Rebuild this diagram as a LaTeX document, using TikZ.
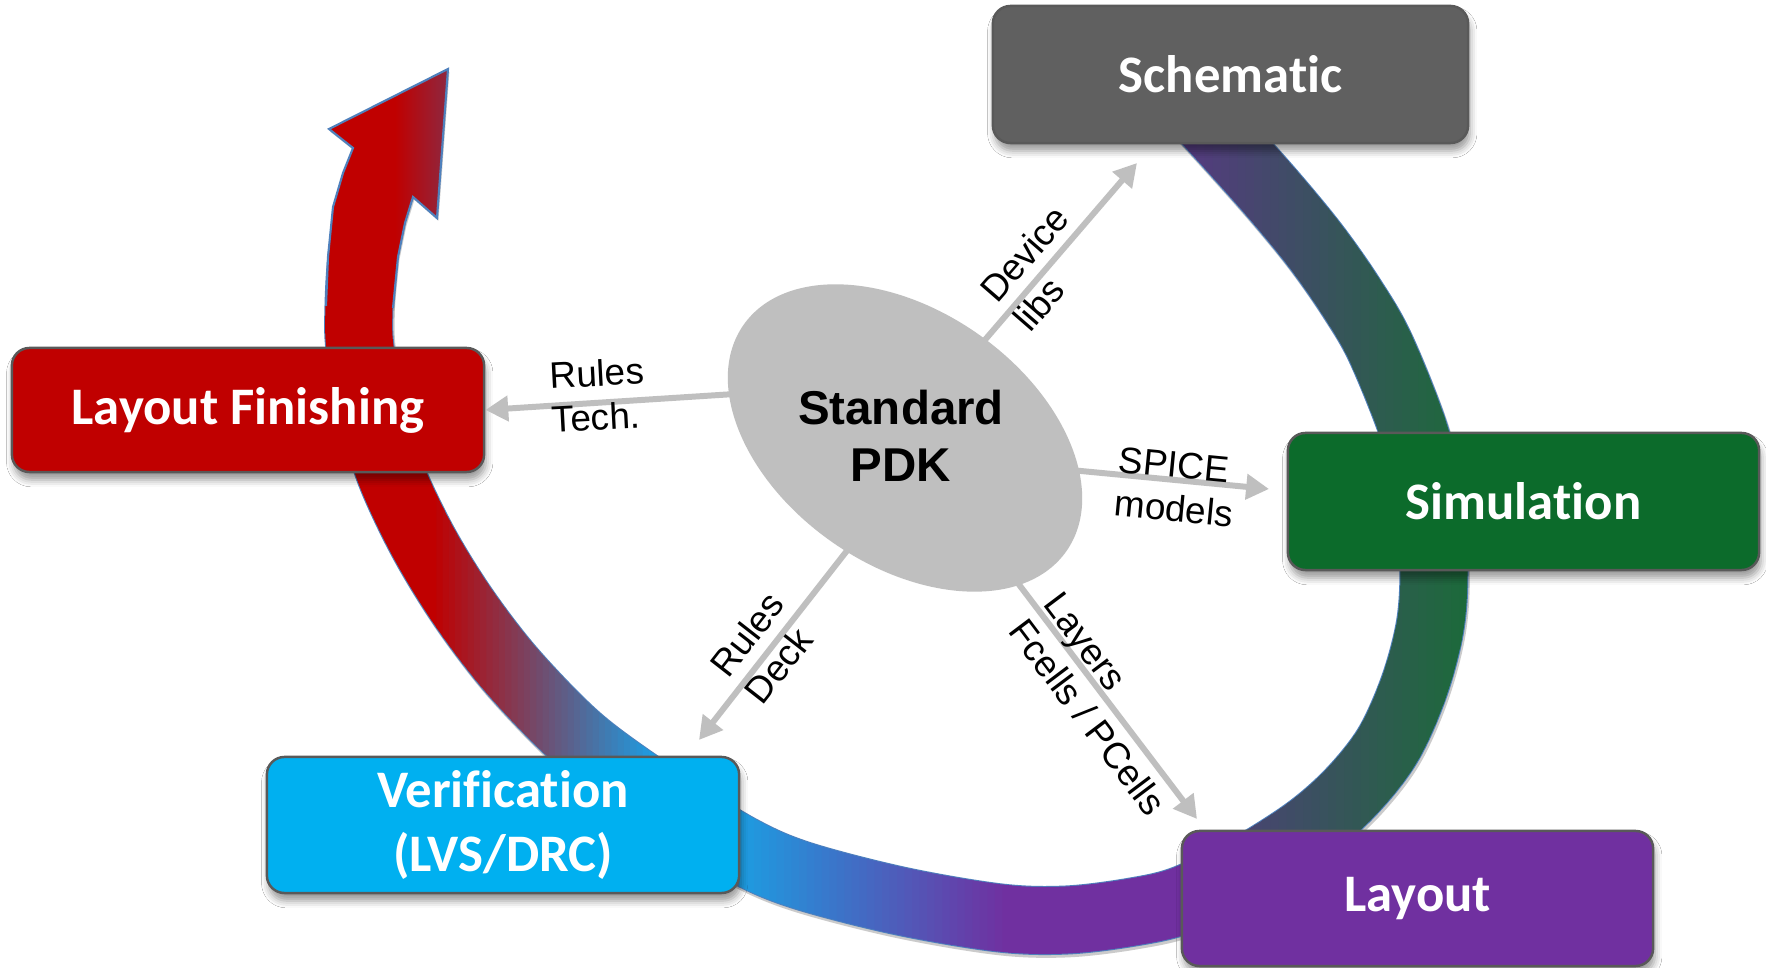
\documentclass[tikz,border=0pt]{standalone}
\usepackage{fontspec}
\newfontfamily\calib[Ligatures=CommonOff]{Carlito}
\newfontfamily\arial{Liberation Sans}
\usetikzlibrary{shapes.geometric,arrows.meta,shadows.blur}
\definecolor{schgray}{HTML}{606060}
\definecolor{simgreen}{HTML}{0C6B2B}
\definecolor{laypurple}{HTML}{7030A0}
\definecolor{verblue}{HTML}{00B0F0}
\definecolor{lfred}{HTML}{C00000}
\definecolor{pdkgray}{HTML}{BFBFBF}
\definecolor{arrgray}{HTML}{BFBFBF}
\definecolor{bandpurple}{HTML}{553A80}
\definecolor{bandgreen}{HTML}{1B6B39}
\definecolor{bandblue}{HTML}{1E9BE0}
\definecolor{bandviolet}{HTML}{7030A0}
\definecolor{banddark}{HTML}{8A2B45}
\definecolor{bandline}{HTML}{4F81BD}
\definecolor{boxedge}{HTML}{595959}
% centre line of the cycle band
\newcommand\bandstroke[1]{%
  \draw[#1] plot[smooth,tension=0.55] coordinates {(1180,92) (1227,143) (1275,197) (1316,247) (1351,297) (1380,347) (1414,432) (1430,500) (1434,570) (1430,627) (1414,687) (1388,745) (1352,791) (1308,830) (1245,870) (1183,900) (1133,912) (1067,920) (1000,918) (900,901) (800,875) (740,849) (668,804) (598,755) (557,719) (506,664) (461,604) (422,540) (390,472) (372,410) (360,348) (359,307) (362,257) (370,215)};}
% gradient along x by strips: #1 left x, #2 right x, #3 top y, #4 bottom y, #5 left colour, #6 right colour
\newcommand\bandgrad[6]{%
  \foreach \i in {0,...,35}{%
    \pgfmathsetmacro\xa{#1+(#2-#1)*\i/36}%
    \pgfmathsetmacro\xb{#1+(#2-#1)*(\i+1)/36+2}%
    \pgfmathsetmacro\pp{100*\i/35}%
    \begin{scope}
      \clip (\xa,#3) rectangle (\xb,#4);
      \bandstroke{line width=0.67cm, line cap=butt, color=#6!\pp!#5}
    \end{scope}}}
\newcommand\bandsolid[5]{%
  \begin{scope}
    \clip (#1,#3) rectangle (#2,#4);
    \bandstroke{line width=0.67cm, line cap=butt, color=#5}
  \end{scope}}
\tikzset{
  box/.style={rectangle, rounded corners=5pt, draw=boxedge, line width=0.7pt,
    text=white, font=\calib\bfseries\fontsize{15}{18}\selectfont, align=center, inner sep=0pt,
    blur shadow={shadow xshift=0.5pt, shadow yshift=-2.2pt, shadow blur radius=2pt, shadow opacity=40}},
  arr/.style={draw=arrgray, line width=1.7pt, -{Triangle[length=6.5pt,width=7pt]}},
  lbl/.style={font=\arial\fontsize{10.5}{12.5}\selectfont, align=left, inner sep=0pt},
}
\begin{document}
\begin{tikzpicture}[x=0.01cm, y=-0.01cm]
\useasboundingbox (0,0) rectangle (1766,968);
\fill[white] (0,0) rectangle (1766,968);

% ---- cycle band ----
\begin{scope}[xshift=0.4pt, yshift=-0.8pt]
  \bandstroke{line width=0.69cm, line cap=butt, color=black!45, opacity=0.45}
  \fill[black!45, opacity=0.45] (326,306) -- (328,257) -- (333,207) -- (343,173) -- (353,148) -- (329,129) -- (448,69) -- (437,218) -- (413,197) -- (405,223) -- (398,257) -- (393,308) -- cycle;
\end{scope}
\bandstroke{line width=0.69cm, line cap=butt, color=bandline}
% seg 1 and 2 (purple -> green)
\bandsolid{1090}{1182}{0}{835}{bandpurple}
\bandgrad{1180}{1476}{0}{835}{bandpurple}{bandgreen}
\bandsolid{1474}{1530}{0}{835}{bandgreen}
% seg 3 (blue -> purple)
\bandgrad{739}{1010}{770}{968}{bandblue}{bandviolet}
\bandsolid{1008}{1190}{770}{968}{bandviolet}
% seg 4 (red -> blue)
\bandsolid{250}{432}{420}{780}{lfred}
\bandgrad{430}{655}{420}{780}{lfred}{bandblue}
\bandsolid{653}{740}{420}{780}{bandblue}
% seg 5 (red)
\bandsolid{250}{470}{150}{420}{lfred}
% arrow head
\begin{scope}
  \clip (326,306) -- (328,257) -- (333,207) -- (343,173) -- (353,148) -- (329,129) -- (448,69) -- (437,218) -- (413,197) -- (405,223) -- (398,257) -- (393,308) -- cycle;
  \fill[lfred] (300,50) rectangle (397,320);
  \shade[left color=lfred, right color=banddark] (395,50) rectangle (452,320);
\end{scope}
\draw[bandline, line width=0.6pt, line join=miter] (326,306) -- (328,257) -- (333,207) -- (343,173) -- (353,148) -- (329,129) -- (448,69) -- (437,218) -- (413,197) -- (405,223) -- (398,257) -- (393,308);

% connector end points
\coordinate (s0) at (735,394);
\coordinate (s1) at (972,355);
\coordinate (s2) at (1060,469);
\coordinate (s3) at (853,543);
\coordinate (s4) at (1014,578);
\coordinate (d1) at (1137,163);
\coordinate (d2) at (1269,489);
\coordinate (d3) at (699,740);
\coordinate (d4) at (1197,819);

% boxes
\node[box, fill=schgray, minimum width=4.75cm, minimum height=1.37cm] (sch) at (1230.5,74.5) {Schematic};
\node[box, fill=simgreen, minimum width=4.71cm, minimum height=1.37cm] (sim) at (1523.5,501.5) {Simulation};
\node[box, fill=laypurple, minimum width=4.71cm, minimum height=1.35cm] (lay) at (1417.5,898.5) {Layout};
\node[box, fill=verblue, minimum width=4.72cm, minimum height=1.36cm] (ver) at (503,825) {Verification\\(LVS/DRC)};
\node[box, fill=lfred, minimum width=4.72cm, minimum height=1.24cm] (lf) at (248,410) {Layout Finishing};

% gray arrows
\draw[arr] (s0) -- (lf.east);
\draw[arr] (s1) -- (d1);
\draw[arr] (s2) -- (d2);
\draw[arr] (s3) -- (d3);
\draw[arr] (s4) -- (d4);

% PDK ellipse
\node[ellipse, fill=pdkgray, minimum width=3.94cm, minimum height=2.54cm, inner sep=0pt, rotate=-35] (pdk) at (905,438) {};
\node[font=\arial\bfseries\fontsize{13.5}{16.2}\selectfont, align=center, inner sep=0pt] (pdktxt) at (901,436) {Standard\\PDK};

% arrow labels
\node[lbl, rotate=3] (l0) at (598,395) {Rules\\Tech.};
\node[lbl, rotate=49] (l1) at (1041,268) {Device\\libs};
\node[lbl, rotate=-5.5] (l2) at (1176,487) {SPICE\\models};
\node[lbl, rotate=52] (l3) at (764,648) {Rules\\Deck};
\node[lbl, rotate=-53] (l4) at (1105,704) {Layers\\Fcells / PCells};
\end{tikzpicture}
\end{document}
